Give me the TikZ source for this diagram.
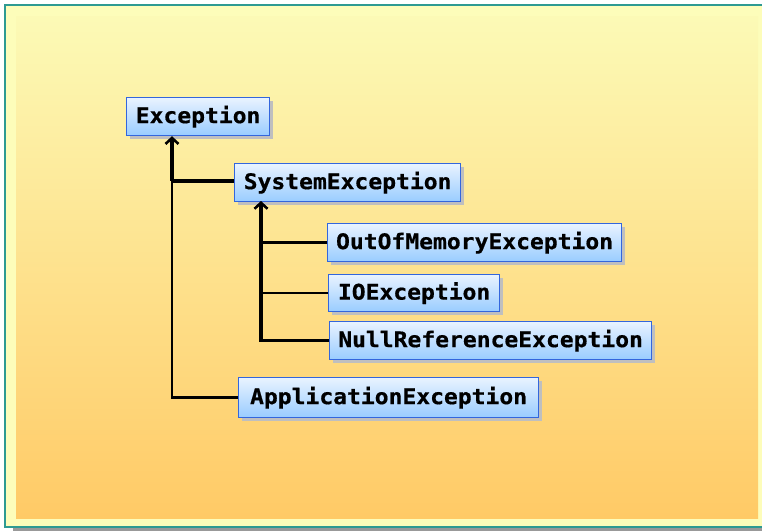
\documentclass[tikz,border=0pt]{standalone}
\usepackage{fontspec}
\newfontfamily\boxfont[FakeStretch=1.07,FakeBold=0.6]{DejaVu Sans Mono Bold}
\usetikzlibrary{arrows.meta,shadows}
\definecolor{framefill}{HTML}{FDFDBA}
\definecolor{frameline}{HTML}{2E9A92}
\definecolor{gradtop}{HTML}{FCFAB6}
\definecolor{gradbot}{HTML}{FFCA66}
\definecolor{boxtop}{HTML}{E9F3FF}
\definecolor{boxbot}{HTML}{99CCFF}
\definecolor{boxline}{HTML}{3366DD}
\tikzset{
  classbox/.style={draw=boxline, line width=1.2pt, top color=boxtop, bottom color=boxbot,
    minimum height=38, inner sep=0pt, anchor=north west, text=black,
    font=\boxfont\fontsize{21.5}{24}\selectfont,
    drop shadow={shadow xshift=3.5pt, shadow yshift=-3.5pt, fill=gray!50, opacity=1}},
  heavy/.style={line width=3.6pt},
  light/.style={line width=2.3pt},
  uptip/.style={-{Straight Barb[length=6pt,width=13pt,line width=2.6pt]}}
}
\begin{document}
\begin{tikzpicture}[x=1pt,y=-1pt]
\useasboundingbox (0,0) rectangle (762,531);
\begin{scope}
\clip (0,0) rectangle (762,531);
% frame shadow
\fill[gray!80] (13,9) rectangle (780,531);
% frame
\fill[framefill] (5,5) rectangle (780,527);
\draw[frameline, line width=1.4pt] (780,5) -- (5,5) -- (5,527) -- (780,527);
% inner gradient panel
\shade[top color=gradtop, bottom color=gradbot] (16,16) rectangle (758,518);
\end{scope}

% nodes
\node[classbox, minimum width=143] (exc) at (126,97) {Exception};
\node[classbox, minimum width=226] (sys) at (234,163) {SystemException};
\node[classbox, minimum width=294] (oom) at (327,223) {OutOfMemoryException};
\node[classbox, minimum width=171, minimum height=37] (io) at (328,274) {IOException};
\node[classbox, minimum width=322] (nul) at (329,321) {NullReferenceException};
\node[classbox, minimum width=300, minimum height=40] (app) at (238,377) {ApplicationException};

% trunks
\coordinate (j1) at (172,181);
\coordinate (t2) at (261,201);

\draw[heavy, uptip] (j1) -- (exc.south -| j1);
\draw[heavy] (j1) -- (sys.west |- j1);
\draw[light, line join=miter] (j1) |- (app.west);

\draw[heavy, uptip, line join=miter] (nul.west) -| (t2);
\draw[light] (oom.west) -- ([xshift=-2pt]oom.west -| t2);
\draw[light] (io.west) -- ([xshift=-2pt]io.west -| t2);
\end{tikzpicture}
\end{document}
